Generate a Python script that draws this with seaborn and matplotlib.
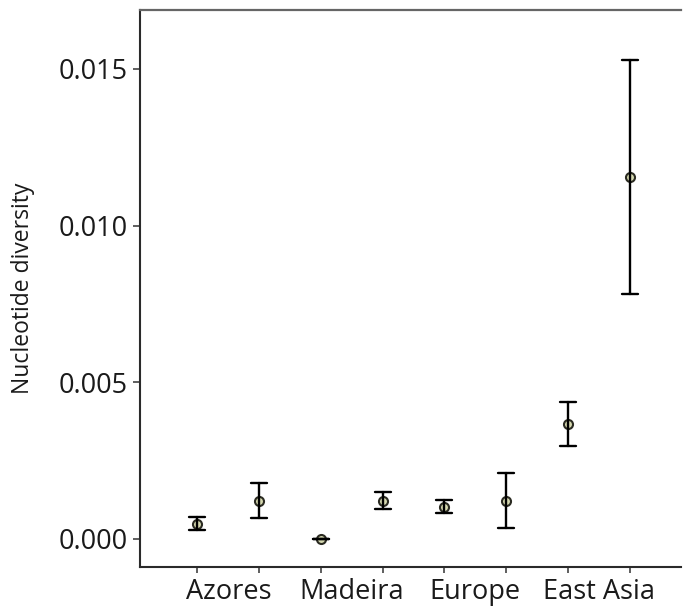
import numpy as np
import pandas as pd
import matplotlib
matplotlib.use("Agg")
import matplotlib.pyplot as plt
import seaborn as sns

# Nucleotide diversity per sample (two loci per region), with interval bounds
samples = ["Azores-1", "Azores-2", "Madeira-1", "Madeira-2",
           "Europe-1", "Europe-2", "East Asia-1", "East Asia-2"]
center = [0.00048, 0.00122, 0.00000, 0.00122, 0.00103, 0.00122, 0.00367, 0.01156]
lower = [0.00028, 0.00066, 0.00000, 0.00095, 0.00082, 0.00034, 0.00297, 0.00782]
upper = [0.00071, 0.00178, 0.00000, 0.00149, 0.00124, 0.00210, 0.00438, 0.01529]
regions = ["Azores", "Madeira", "Europe", "East Asia"]
y_ticks = [0.000, 0.005, 0.010, 0.015]

# Long table: lower bound, estimate and upper bound per sample.
# Median gives the estimate, the full percentile interval gives the bounds.
rows = []
for s, lo, c, hi in zip(samples, lower, center, upper):
    for v in (lo, c, hi):
        rows.append({"sample": s, "pi": v})
df = pd.DataFrame(rows)

sns.set_style("white")
plt.rcParams["font.family"] = ["Open Sans", "DejaVu Sans"]

fig = plt.figure(figsize=(6.83, 6.09), dpi=100)
ax = fig.add_axes([140 / 683, 42 / 609, 541 / 683, 557 / 609])

sns.pointplot(
    data=df, x="sample", y="pi", order=samples,
    estimator="median", errorbar=("pi", 100),
    linestyle="none", marker="o", color="black",
    markersize=6.5, markerfacecolor="#d6d9b0", markeredgecolor="#2b2b22",
    markeredgewidth=1.5, capsize=0.26,
    err_kws={"linewidth": 1.7, "color": "black"},
    ax=ax,
)

ax.set_xlim(-0.93, 7.83)
ax.set_ylim(-0.000894, 0.01688)

# y axis
ax.set_yticks(y_ticks)
ax.set_yticklabels([f"{t:.3f}" for t in y_ticks])
ax.tick_params(axis="y", which="major", left=True, length=5, width=1.1,
               color="#333333", pad=3.5, labelsize=19.5, labelcolor="#1a1a1a")
ax.set_ylabel("Nucleotide diversity", fontsize=16.5, color="#1a1a1a")
ax.yaxis.set_label_coords(-0.195, 0.5)

# x axis: ticks at each sample, region names centred between sample pairs
ax.set_xticks(range(len(samples)))
ax.set_xticklabels([""] * len(samples))
ax.tick_params(axis="x", which="major", bottom=True, length=4, width=1.1,
               color="#333333")
ax.set_xticks([0.5, 2.5, 4.5, 6.5], minor=True)
ax.set_xticklabels(regions, minor=True)
ax.tick_params(axis="x", which="minor", bottom=True, length=0, pad=8,
               labelsize=19.5, labelcolor="#1a1a1a")
ax.set_xlabel("")

for side in ("left", "bottom"):
    ax.spines[side].set_color("#2a2a2a")
    ax.spines[side].set_linewidth(1.5)
ax.spines["top"].set_color("#666666")
ax.spines["top"].set_linewidth(1.6)
ax.spines["right"].set_visible(False)

fig.savefig("out.png", dpi=100)
